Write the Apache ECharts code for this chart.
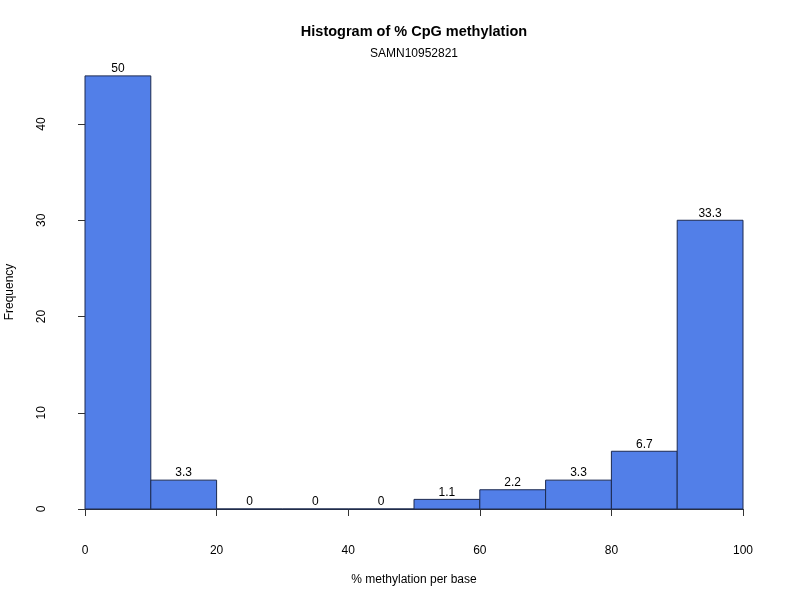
<!DOCTYPE html>
<html>
<head>
<meta charset="utf-8">
<script src="https://cdn.jsdelivr.net/npm/echarts@6/dist/echarts.min.js"></script>
<style>html,body{margin:0;padding:0;background:#fff}#c{width:800px;height:600px}</style>
</head>
<body>
<div id="c"></div>
<script>
const binStarts = [0, 10, 20, 30, 40, 50, 60, 70, 80, 90];
const binEnds = [10, 20, 30, 40, 50, 60, 70, 80, 90, 100];
const counts = [45, 3, 0, 0, 0, 1, 2, 3, 6, 30];
const pctLabels = ['50', '3.3', '0', '0', '0', '1.1', '2.2', '3.3', '6.7', '33.3'];
const xTicks = [0, 20, 40, 60, 80, 100];
const yTicks = [0, 10, 20, 30, 40];

const FONT = '"Liberation Sans", Arial, Helvetica, sans-serif';
const data = binStarts.map((s, i) => [s, binEnds[i], counts[i], pctLabels[i]]);

const chart = echarts.init(document.getElementById('c'), null, {renderer: 'canvas'});
chart.setOption({
  animation: false,
  backgroundColor: '#ffffff',
  textStyle: {fontFamily: FONT},
  graphic: [
    {type: 'text', x: 414, y: 32,
     style: {text: 'Histogram of % CpG methylation', font: 'bold 14.5px ' + FONT, fill: '#000', align: 'center', verticalAlign: 'middle'}},
    {type: 'text', x: 414, y: 54,
     style: {text: 'SAMN10952821', font: '12px ' + FONT, fill: '#000', align: 'center', verticalAlign: 'middle'}},
    {type: 'text', x: 414, y: 580,
     style: {text: '% methylation per base', font: '12px ' + FONT, fill: '#000', align: 'center', verticalAlign: 'middle'}},
    {type: 'text', x: 4, y: 292, rotation: Math.PI / 2,
     style: {text: 'Frequency', font: '12px ' + FONT, fill: '#000', align: 'center', verticalAlign: 'top'}}
  ],
  grid: {left: 85, right: 57, top: 124, bottom: 91},
  xAxis: {
    type: 'value', min: xTicks[0], max: xTicks[xTicks.length - 1], interval: 20, offset: 18,
    axisLine: {show: true, lineStyle: {color: '#333', width: 1}},
    axisTick: {show: true, length: 7, lineStyle: {color: '#333'}},
    axisLabel: {color: '#000', fontSize: 12, fontFamily: FONT, margin: 18},
    splitLine: {show: false}
  },
  yAxis: {
    type: 'value', min: yTicks[0], max: yTicks[yTicks.length - 1], interval: 10, offset: 25,
    axisLine: {show: true, lineStyle: {color: '#333', width: 1}},
    axisTick: {show: true, length: 7, lineStyle: {color: '#333'}},
    axisLabel: {color: '#000', fontSize: 12, fontFamily: FONT, rotate: 90, margin: 12},
    splitLine: {show: false}
  },
  series: [{
    type: 'custom',
    clip: false,
    data: data,
    renderItem: function (params, api) {
      const p0 = api.coord([api.value(0), 0]);
      const p1 = api.coord([api.value(1), api.value(2)]);
      const label = pctLabels[params.dataIndex];
      return {
        type: 'group',
        children: [
          {type: 'rect',
           shape: {x: p0[0], y: p1[1], width: p1[0] - p0[0], height: p0[1] - p1[1]},
           style: {fill: '#527FE8', stroke: '#1c2a50', lineWidth: 1}},
          {type: 'text',
           style: {text: label, x: (p0[0] + p1[0]) / 2, y: p1[1] - 1, align: 'center',
                   verticalAlign: 'bottom', font: '12px ' + FONT, fill: '#000'}}
        ]
      };
    }
  }]
});
</script>
</body>
</html>
